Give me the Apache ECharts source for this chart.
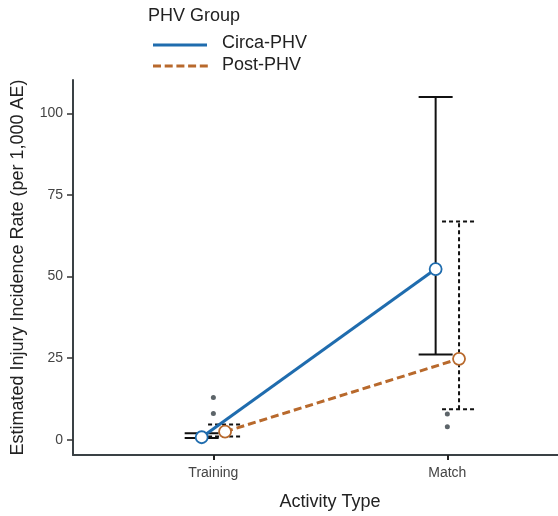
<!DOCTYPE html>
<html>
<head>
<meta charset="utf-8">
<script src="https://cdn.jsdelivr.net/npm/echarts@6/dist/echarts.min.js"></script>
<style>html,body{margin:0;padding:0;background:#fff}#c{width:558px;height:516px}</style>
</head>
<body>
<div id="c"></div>
<script>
// ---- data ----
const categories = ['Training', 'Match'];
const groups = ['Circa-PHV', 'Post-PHV'];
const circaEst = [0.8, 52.3];
const circaLow = [0.6, 26.1];
const circaHigh = [2.0, 105.0];
const postEst = [2.5, 24.8];
const postLow = [1.0, 9.4];
const postHigh = [4.7, 66.9];
const outliersTraining = [13.0, 8.1];
const outliersMatch = [7.9, 4.0];
const yTicks = [0, 25, 50, 75, 100];

// ---- layout/style ----
const FONT = '"Liberation Sans", Arial, sans-serif';
const BLUE = '#1f6cae';
const ORANGE = '#b8692c';
const DODGE = 0.05;
const catPos = categories.map((c, i) => i + 1);

function pts(vals, off) { return vals.map((v, i) => [catPos[i] + off, v]); }
function bars(lo, hi, off) { return lo.map((v, i) => [catPos[i] + off, v, hi[i]]); }
function outlierPts() {
  const a = [];
  outliersTraining.forEach(v => a.push([catPos[0], v]));
  outliersMatch.forEach(v => a.push([catPos[1], v]));
  return a;
}

function errRender(dash) {
  return function (params, api) {
    const x = api.value(0);
    const lo = api.coord([x, api.value(1)]);
    const hi = api.coord([x, api.value(2)]);
    const hw = 17;
    const st = { stroke: '#111', lineWidth: 2, lineDash: dash };
    return {
      type: 'group',
      children: [
        { type: 'line', shape: { x1: lo[0], y1: lo[1], x2: hi[0], y2: hi[1] }, style: st },
        { type: 'line', shape: { x1: hi[0] - hw, y1: hi[1], x2: hi[0] + hw, y2: hi[1] }, style: st },
        { type: 'line', shape: { x1: lo[0] - hw, y1: lo[1], x2: lo[0] + hw, y2: lo[1] }, style: st }
      ]
    };
  };
}

const chart = echarts.init(document.getElementById('c'), null, { renderer: 'canvas' });
chart.setOption({
  animation: false,
  backgroundColor: '#fff',
  textStyle: { fontFamily: FONT },
  grid: { left: 73, top: 80, width: 485, height: 378, containLabel: false },
  xAxis: {
    type: 'value', min: 0.4, max: 2.473,
    name: 'Activity Type', nameLocation: 'middle', nameGap: 38,
    nameTextStyle: { fontSize: 18, color: '#222', fontFamily: FONT, padding: [0, 0, 0, 29] },
    axisLine: { show: true, onZero: false, lineStyle: { color: '#3a4145', width: 2 } },
    axisTick: { show: true, customValues: catPos, length: 5, lineStyle: { color: '#222', width: 2 } },
    axisLabel: {
      customValues: catPos, margin: 11, fontSize: 14, color: '#444', fontFamily: FONT,
      formatter: v => categories[Math.round(v) - 1] || ''
    },
    splitLine: { show: false }
  },
  yAxis: {
    type: 'value', min: -4.64, max: 110.2,
    name: 'Estimated Injury Incidence Rate (per 1,000 AE)', nameLocation: 'middle', nameGap: 46,
    nameTextStyle: { fontSize: 18, color: '#222', fontFamily: FONT },
    axisLine: { show: true, onZero: false, lineStyle: { color: '#3a4145', width: 2 } },
    axisTick: { show: true, customValues: yTicks, length: 6, lineStyle: { color: '#333', width: 1.5 } },
    axisLabel: { customValues: yTicks, margin: 10, fontSize: 14, color: '#444', fontFamily: FONT },
    splitLine: { show: false }
  },
  series: [
    { type: 'scatter', name: 'outliers', data: outlierPts(), symbolSize: 5,
      itemStyle: { color: '#333d44' }, z: 1 },
    { type: 'custom', name: 'circaErr', data: bars(circaLow, circaHigh, -DODGE),
      renderItem: errRender(null), z: 2 },
    { type: 'custom', name: 'postErr', data: bars(postLow, postHigh, DODGE),
      renderItem: errRender([4, 3]), z: 2 },
    { type: 'line', name: groups[0], data: pts(circaEst, -DODGE), z: 3,
      lineStyle: { color: BLUE, width: 3 },
      symbol: 'circle', symbolSize: 12,
      itemStyle: { color: '#fff', borderColor: BLUE, borderWidth: 1.8 } },
    { type: 'line', name: groups[1], data: pts(postEst, DODGE), z: 3,
      lineStyle: { color: ORANGE, width: 3, type: [8, 4] },
      symbol: 'circle', symbolSize: 12,
      itemStyle: { color: '#fff', borderColor: ORANGE, borderWidth: 1.8 } }
  ],
  graphic: [
    { type: 'text', left: 148, top: 7, style: { text: 'PHV Group', font: '18px ' + FONT, fill: '#222' } },
    { type: 'line', shape: { x1: 153, y1: 45, x2: 207, y2: 45 }, style: { stroke: BLUE, lineWidth: 3 } },
    { type: 'text', left: 222, top: 34, style: { text: groups[0], font: '18px ' + FONT, fill: '#222' } },
    { type: 'line', shape: { x1: 153, y1: 66, x2: 210, y2: 66 }, style: { stroke: ORANGE, lineWidth: 3, lineDash: [8, 3.7] } },
    { type: 'text', left: 222, top: 56, style: { text: groups[1], font: '18px ' + FONT, fill: '#222' } }
  ]
});
</script>
</body>
</html>
